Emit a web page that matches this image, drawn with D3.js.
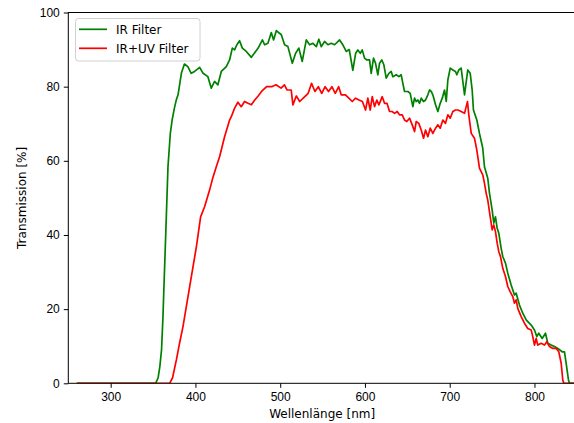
<!DOCTYPE html>
<html>
<head>
<meta charset="utf-8">
<script src="https://cdn.jsdelivr.net/npm/d3@7"></script>
<style>
    body { margin: 0; background: #fff; }
    svg { display: block; font-family: "DejaVu Sans", sans-serif; }
    .tick text { font-size: 12px; fill: #000; }
    .axis__label { font-size: 12px; fill: #000; }
    .legend__text { font-size: 12px; fill: #000; }
</style>
</head>
<body>
<div id="chart"></div>
<script>
// IR Filter (green) – wavelength [nm] / transmission [%]
const irWave = [260, 353, 356, 358, 360, 361.7, 363, 365, 367.6, 370.4, 372.5, 375, 377.5, 379.5, 383.4, 387,
    391, 395, 399, 405, 409, 414.7, 418.7, 422.6, 426.5, 430.5, 436.4, 440.3, 443.5, 446.2, 448.9, 452.1,
    455.3, 460, 466, 471, 474, 479, 481.6, 485.5, 489.5, 492.2, 495.4, 501.3, 505.2, 509.1, 514.3, 518.2,
    522, 526, 530.8, 534.7, 538.6, 542.6, 545.6, 548.5, 552.4, 556.3, 560.2, 564.2, 570.1, 573.9, 577.9,
    581.5, 585.7, 589, 591.6, 594.5, 596.8, 599.5, 602.3, 605.4, 607.4, 610.1, 612.5, 615.2, 617.2, 619.9,
    622.3, 625.1, 628.2, 631, 632.9, 636.9, 640, 642.8, 644.7, 646.7, 650.6, 653.4, 656.5, 658.5, 660.5,
    662.4, 664.4, 666.4, 669.1, 671.5, 674.2, 676.2, 678.2, 680.1, 683.3, 686, 688.8, 691.2, 693.9, 695.9,
    697.8, 700.6, 703.7, 706.8, 708.4, 710.7, 713.5, 717.5, 721.3, 724.2, 726.5, 728, 732, 735.1, 739, 741,
    744.9, 746.9, 750.1, 752, 754, 756, 757.9, 760.7, 762.6, 765.8, 768.5, 772.5, 776.4, 778.4, 782.3,
    786.2, 790.2, 796.1, 800, 802.7, 805.1, 809.1, 813, 815.7, 819.7, 823.6, 827.5, 832.7, 835.4, 837.4,
    840.1, 841.3, 848];
const irValues = [0, 0, 1.5, 4.5, 9, 18, 27, 40.5, 58.4, 67.5, 71, 74, 76.5, 77.8, 83.6, 86.1,
    85.4, 83.6, 84.1, 85.2, 83.6, 82.7, 79.6, 81.4, 80.5, 84.1, 85.4, 87.2, 90.4, 89.9, 91.3, 92.4,
    90.4, 89.5, 87.9, 89.5, 90.4, 92.6, 91.3, 91.7, 94.6, 92.6, 95.1, 94.0, 91.3, 90.8, 86.3, 89.0,
    90.4, 86.8, 92.6, 91.3, 91.7, 90.8, 92.8, 90.8, 92.2, 91.3, 91.7, 91.3, 92.6, 91.3, 89.5,
    90.0, 84.4, 89.0, 89.9, 89.0, 89.9, 87.7, 87.2, 87.2, 83.6, 87.7, 86.3, 83.2, 86.3, 87.2,
    85.9, 82.3, 83.6, 84.1, 82.7, 83.2, 82.7, 83.2, 80.9, 78.7, 78.7, 78.2, 74.6, 76.9, 76.0,
    76.4, 75.5, 76.9, 76.0, 76.4, 77.8, 79.1, 78.7, 77.8, 75.1, 73.3, 75.5, 76.9, 79.1, 76.0,
    81.8, 85.0, 84.5, 84.1, 83.2, 84.5, 85.0, 77.8, 84.5, 83.6, 79.1, 73.7, 71.0, 67.4, 63.4, 58.4,
    55.3, 51.3, 46.7, 43.2, 44.9, 41.8, 40.5, 36.4, 34.2, 32.4, 29.7, 26.5, 23.8, 24.3, 21.1,
    18.9, 17.1, 15.7, 14.4, 12.6, 13.5, 12.1, 13.5, 10.8, 10.3, 9.9, 9.4, 8.5, 8.5, 5.4,
    0.9, 0, 0];

// IR+UV Filter (red)
const uvWave = [260, 369.6, 373, 377.5, 381, 385.3, 393.2, 401.1, 406.1, 410.8, 416.7, 420, 424.6, 428.5,
    434.4, 440.3, 442.3, 446.2, 450.1, 454, 458, 462, 466, 470, 474, 478, 484, 490, 495, 501, 505, 508,
    513, 515, 519, 523, 529, 533, 537, 541, 545, 549, 553, 557, 561, 565, 569, 572, 577, 581, 585, 589,
    593, 597, 600.7, 603.4, 606.2, 608.6, 611.3, 614, 616.4, 620.4, 623.1, 626, 629, 632, 635, 638, 640.8,
    644, 646.7, 649.4, 652.6, 655.8, 658.5, 660.5, 663.5, 666.4, 669.1, 671.5, 674.2, 677, 680.1, 683.3,
    686, 688.8, 691.9, 695, 697.8, 700.6, 703.7, 706.8, 709.6, 713.5, 717.5, 719, 721, 722.5, 725.4, 729.2,
    732, 735.1, 739, 741, 743, 744.9, 747.8, 750.1, 752, 754, 756, 757.9, 759.9, 762.6, 765.8, 768.5,
    771.3, 774.4, 776.4, 778.4, 780.3, 784.3, 788.2, 792.1, 796.1, 798, 800, 802, 803.9, 807.9, 811.8,
    814.5, 817.7, 821.6, 825.6, 828.7, 831.5, 833.4, 834.6, 848];
const uvValues = [0, 0, 1.5, 6.3, 10.5, 15.3, 26.1, 36.8, 44.9, 47.6, 52.1, 55, 58.4, 61.1,
    66.5, 71.0, 71.9, 74.2, 75.8, 74.6, 76.0, 75.5, 75.1, 76.4, 77.5, 78.7, 80.0, 80.0, 80.5, 79.6, 80.5, 79.1,
    79.1, 75.1, 77.5, 76.0, 77.3, 78.2, 80.9, 78.7, 80.0, 78.2, 80.0, 78.7, 80.0, 78.2, 80.0, 77.8, 77.8, 76.9, 76.0, 76.9,
    76.4, 76.0, 73.7, 76.9, 73.7, 77.3, 74.6, 76.4, 75.1, 77.3, 75.5, 75.5, 73.3, 73.3, 72.8, 73.3, 72.4,
    72.4, 71.0, 70.6, 71.5, 69.7, 67.9, 70.6, 70.1, 68.3, 66.1, 68.3, 66.5, 68.8, 67.4, 68.8,
    69.7, 68.8, 71.0, 70.1, 72.4, 71.5, 73.3, 73.7, 73.7, 73.3, 72.8, 74.2, 76.0, 72.4, 67.4, 66.1,
    62.9, 58.0, 56.2, 54.0, 51.3, 49.4, 44.9, 41.4, 42.7, 40.9, 37.8, 35.5, 34.2, 31.0, 28.8, 26.1,
    24.7, 23.4, 21.6, 22.5, 20.2, 18.0, 16.2, 14.8, 14.4, 12.6, 10.3, 12.1, 10.3, 10.8, 10.3,
    11.2, 9.9, 9.4, 9.4, 8.5, 5.4, 0.9, 0, 0];

const seriesNames = ['IR Filter', 'IR+UV Filter'];
const seriesColors = ['#008000', '#ff0000'];
const xTicks = [300, 400, 500, 600, 700, 800];
const yTicks = [0, 20, 40, 60, 80, 100];

class LineChart {
    constructor() {
        this.width = 574;
        this.height = 423;
        this.left = 68.3;
        this.right = 576;
        this.top = 12.5;
        this.bottom = 383.3;

        this.series = [
            irWave.map((w, i) => ({ x: w, y: irValues[i] })),
            uvWave.map((w, i) => ({ x: w, y: uvValues[i] }))
        ];

        this.svg = d3.select('#chart')
            .append('svg')
            .attr('width', this.width)
            .attr('height', this.height);

        this.xScale = d3.scaleLinear()
            .domain([250, 849])
            .range([this.left, this.right]);

        this.yScale = d3.scaleLinear()
            .domain([0, 100])
            .range([this.bottom, this.top]);

        this.plotLines();
        this.plotAxis();
        this.plotLegend();
    };

    plotLines = () => {
        const line = d3.line()
            .x(d => this.xScale(d.x))
            .y(d => this.yScale(d.y));

        this.svg.append('clipPath')
            .attr('id', 'plotClip')
            .append('rect')
            .attr('x', this.left)
            .attr('y', this.top)
            .attr('width', this.right - this.left)
            .attr('height', this.bottom - this.top);

        this.svg.append('g')
            .attr('clip-path', 'url(#plotClip)')
            .selectAll('path')
            .data(this.series)
            .enter()
            .append('path')
            .attr('d', line)
            .attr('fill', 'none')
            .attr('stroke', (d, i) => seriesColors[i])
            .attr('stroke-width', 1.7)
            .attr('stroke-linejoin', 'round');
    };

    plotAxis = () => {
        const xAxis = d3.axisBottom(this.xScale)
            .tickValues(xTicks)
            .tickSize(4.5)
            .tickPadding(5)
            .tickSizeOuter(0);
        const yAxis = d3.axisLeft(this.yScale)
            .tickValues(yTicks)
            .tickSize(4.5)
            .tickPadding(4)
            .tickSizeOuter(0);

        const gx = this.svg.append('g')
            .attr('transform', 'translate(0,' + this.bottom + ')')
            .call(xAxis);
        const gy = this.svg.append('g')
            .attr('transform', 'translate(' + this.left + ',0)')
            .call(yAxis);

        [gx, gy].forEach(g => {
            g.select('.domain').remove();
            g.selectAll('.tick line').attr('stroke', '#000').attr('stroke-width', 1);
            g.selectAll('.tick text').attr('font-family', null).attr('font-size', null);
        });

        // frame (right side runs off the picture)
        this.svg.append('rect')
            .attr('x', this.left)
            .attr('y', this.top)
            .attr('width', this.right - this.left)
            .attr('height', this.bottom - this.top)
            .attr('fill', 'none')
            .attr('stroke', '#000')
            .attr('stroke-width', 1);

        this.svg.append('text')
            .attr('class', 'axis__label')
            .attr('x', (this.left + this.right) / 2)
            .attr('y', 418)
            .attr('text-anchor', 'middle')
            .text('Wellenlänge [nm]');

        this.svg.append('text')
            .attr('class', 'axis__label')
            .attr('transform', 'translate(26,' + ((this.top + this.bottom) / 2) + ') rotate(-90)')
            .attr('text-anchor', 'middle')
            .text('Transmission [%]');
    };

    plotLegend = () => {
        const legend = this.svg.append('g');

        legend.append('rect')
            .attr('x', 75.5)
            .attr('y', 18.5)
            .attr('width', 124.5)
            .attr('height', 42.5)
            .attr('rx', 3)
            .attr('fill', 'rgba(255,255,255,0.8)')
            .attr('stroke', '#d0d0d0')
            .attr('stroke-width', 1);

        const items = legend.selectAll('g.item')
            .data(seriesNames)
            .enter()
            .append('g')
            .attr('class', 'item')
            .attr('transform', (d, i) => 'translate(0,' + (29.3 + i * 19) + ')');

        items.append('line')
            .attr('x1', 79)
            .attr('x2', 107)
            .attr('stroke', (d, i) => seriesColors[i])
            .attr('stroke-width', 1.7);

        items.append('text')
            .attr('class', 'legend__text')
            .attr('x', 116)
            .attr('y', 4.5)
            .text(d => d);
    };
};

new LineChart();
</script>
</body>
</html>
